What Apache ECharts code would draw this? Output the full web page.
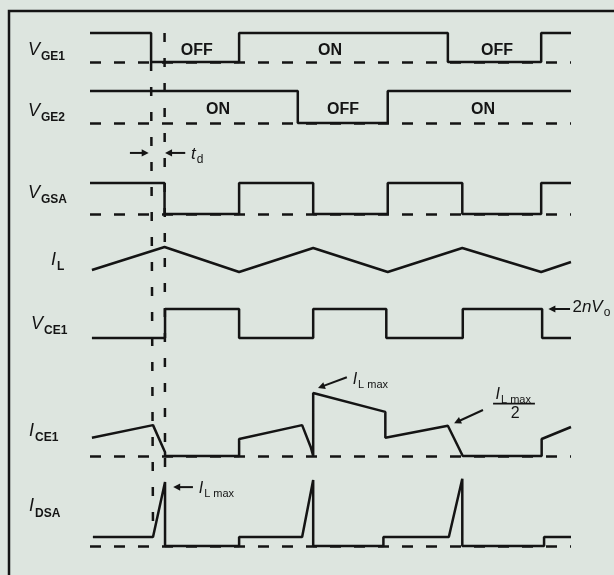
<!DOCTYPE html>
<html>
<head>
<meta charset="utf-8">
<script src="https://cdn.jsdelivr.net/npm/echarts/dist/echarts.min.js"></script>
<style>
html,body{margin:0;padding:0;background:#dde5df;}
#c{width:614px;height:575px;}
</style>
</head>
<body>
<div id="c"></div>
<script>
// ---------- DATA (time in arbitrary units 0..100, levels normalised per trace) ----------
const timeRange = [0, 100];

const vge1Time  = [0, 12.7, 12.7, 31.0, 31.0, 74.4, 74.4, 93.8, 93.8, 100];
const vge1Level = [1, 1, 0, 0, 1, 1, 0, 0, 1, 1];

const vge2Time  = [0, 43.2, 43.2, 61.9, 61.9, 100];
const vge2Level = [1, 1, 0, 0, 1, 1];

const vgsaTime  = [0, 15.5, 15.5, 31.0, 31.0, 46.4, 46.4, 61.9, 61.9, 77.4, 77.4, 93.8, 93.8, 100];
const vgsaLevel = [1, 1, 0, 0, 1, 1, 0, 0, 1, 1, 0, 0, 1, 1];

const ilTime    = [0.4, 15.5, 31.0, 46.4, 61.9, 77.4, 93.8, 100];
const ilLevel   = [0.08, 1, 0, 0.96, 0, 0.96, 0, 0.4];

const vce1Time  = [0.4, 15.6, 15.6, 31.0, 31.0, 46.4, 46.4, 61.6, 61.6, 77.5, 77.5, 94.0, 94.0, 100];
const vce1Level = [0, 0, 1, 1, 0, 0, 1, 1, 0, 0, 1, 1, 0, 0];

// I_CE1 and I_DSA in units of I_L max
const ice1Time  = [0.4, 13.1, 15.6, 15.6, 31.0, 31.0, 44.1, 45.9, 46.4, 46.4, 61.4, 61.4, 74.4, 77.5, 93.9, 93.9, 100];
const ice1Level = [0.29, 0.49, 0.06, 0, 0, 0.27, 0.49, 0.14, 0, 1, 0.70, 0.29, 0.48, 0, 0, 0.27, 0.46];

const idsaTime  = [0.6, 13.1, 15.6, 15.6, 31.0, 31.0, 44.1, 46.4, 46.4, 61.0, 61.0, 74.6, 77.4, 77.4, 94.4, 94.4, 100];
const idsaLevel = [0.14, 0.14, 1.0, 0, 0, 0.14, 0.14, 1.03, 0, 0, 0.14, 0.14, 1.05, 0, 0, 0.14, 0.14];

const traceTimes  = [vge1Time, vge2Time, vgsaTime, ilTime, vce1Time, ice1Time, idsaTime];
const traceLevels = [vge1Level, vge2Level, vgsaLevel, ilLevel, vce1Level, ice1Level, idsaLevel];
const traceDashedBase = [true, true, true, false, false, true, true];

const traceLabelMain = ['V', 'V', 'V', 'I', 'V', 'I', 'I'];
const traceLabelSub  = ['GE1', 'GE2', 'GSA', 'L', 'CE1', 'CE1', 'DSA'];

const stateTexts = ['OFF', 'ON', 'OFF', 'ON', 'OFF', 'ON'];
const stateTrack = [0, 0, 0, 1, 1, 1];
const stateTime  = [22.2, 49.9, 84.6, 26.6, 52.6, 81.7];

// ---------- LAYOUT ----------
const FONT = '"Liberation Sans", Arial, sans-serif';
const INK = '#141414';
const plotLeft = 90, plotRight = 43;
const trackLayout = [
  {top: 33, height: 29},   // V_GE1
  {top: 91, height: 32},   // V_GE2
  {top: 183, height: 31},  // V_GSA
  {top: 247, height: 25},  // I_L
  {top: 309, height: 29},  // V_CE1
  {top: 393, height: 63},  // I_CE1
  {top: 482, height: 64},  // I_DSA
];
const labelLayout = [
  {x: 28, level: 0.34}, {x: 28, level: 0.31}, {x: 28, level: 0.61}, {x: 51, level: 0.40},
  {x: 31, level: 0.41}, {x: 29, level: 0.37}, {x: 29, level: 0.59}
];
const stateLevel = [0.41, 0.41, 0.41, 0.41, 0.41, 0.41];

const chart = echarts.init(document.getElementById('c'), null, {renderer: 'canvas', width: 614, height: 575});

const grids = [], xAxes = [], yAxes = [], series = [];
trackLayout.forEach((tl, i) => {
  grids.push({left: plotLeft, right: plotRight, top: tl.top, height: tl.height, show: false});
  xAxes.push({type: 'value', gridIndex: i, min: timeRange[0], max: timeRange[1], show: false});
  yAxes.push({type: 'value', gridIndex: i, min: 0, max: 1, show: false});
  const s = {
    type: 'line', xAxisIndex: i, yAxisIndex: i, symbol: 'none', clip: false, silent: true,
    data: traceTimes[i].map((t, k) => [t, traceLevels[i][k]]),
    lineStyle: {color: INK, width: 2.5},
    z: 3
  };
  if (traceDashedBase[i]) {
    s.markLine = {
      silent: true, symbol: ['none', 'none'], label: {show: false},
      lineStyle: {color: INK, width: 2.5, type: [11, 13]},
      data: [{yAxis: 0}]
    };
  }
  series.push(s);
});

chart.setOption({
  animation: false,
  backgroundColor: '#dde5df',
  grid: grids, xAxis: xAxes, yAxis: yAxes, series: series
});

// ---------- ANNOTATIONS (positioned through the axes) ----------
const P = (track, t, v) => chart.convertToPixel({gridIndex: track}, [t, v]);
const G = [];

// frame
G.push({type: 'rect', silent: true, shape: {x: 9, y: 11, width: 800, height: 800},
        style: {fill: 'none', stroke: INK, lineWidth: 2.5}});

// vertical dashed guides
const guides = [
  [[0, 12.7, 0], [6, 13.1, 0.14]],
  [[0, 15.5, 1], [6, 15.6, 1]]
];
guides.forEach(g => {
  const a = P(g[0][0], g[0][1], g[0][2]), b = P(g[1][0], g[1][1], g[1][2]);
  G.push({type: 'line', silent: true, z: 2, shape: {x1: a[0], y1: a[1], x2: b[0], y2: b[1]},
          style: {stroke: INK, lineWidth: 2.5, lineDash: [9, 16]}});
});

function textEl(x, y, text, rich, font, align) {
  return {type: 'text', x: x, y: y, silent: true, z: 5,
    style: {text: text, rich: rich || {}, font: font || ('17px ' + FONT), fill: INK,
            align: align || 'left', textAlign: align || 'left',
            verticalAlign: 'middle', textVerticalAlign: 'middle'}};
}
const subRich = (mainSize, subSize, subBold, drop) => ({
  r: {font: mainSize + 'px ' + FONT, fill: INK, verticalAlign: 'bottom', padding: [0, 0, drop, 0]},
  m: {font: 'italic ' + mainSize + 'px ' + FONT, fill: INK, verticalAlign: 'bottom', padding: [0, 1, drop, 0]},
  s: {font: (subBold ? 'bold ' : '') + subSize + 'px ' + FONT, fill: INK, verticalAlign: 'bottom'}
});

// trace labels
traceLabelMain.forEach((m, i) => {
  const p = P(i, 0, labelLayout[i].level);
  G.push(textEl(labelLayout[i].x, p[1], '{m|' + m + '}{s|' + traceLabelSub[i] + '}', subRich(18, 12, true, 4)));
});

// ON / OFF
stateTexts.forEach((s, k) => {
  const p = P(stateTrack[k], stateTime[k], stateLevel[k]);
  G.push(textEl(p[0], p[1], s, null, 'bold 16px ' + FONT, 'center'));
});

// arrows
function arrow(track, from, to) {
  const a = P(track, from[0], from[1]), b = P(track, to[0], to[1]);
  const dx = b[0] - a[0], dy = b[1] - a[1], L = Math.hypot(dx, dy);
  const ux = dx / L, uy = dy / L, hl = 7, hw = 3.6;
  const base = [b[0] - ux * hl, b[1] - uy * hl];
  G.push({type: 'line', silent: true, z: 5, shape: {x1: a[0], y1: a[1], x2: base[0] + ux, y2: base[1] + uy},
          style: {stroke: INK, lineWidth: 2}});
  G.push({type: 'polygon', silent: true, z: 5,
          shape: {points: [b, [base[0] - uy * hw, base[1] + ux * hw], [base[0] + uy * hw, base[1] - ux * hw]]},
          style: {fill: INK}});
}
arrow(2, [8.3, 1.97], [12.2, 1.97]);      // -> t_d
arrow(2, [19.8, 1.97], [15.6, 1.97]);     // <- t_d
arrow(4, [99.8, 1.0], [95.3, 1.0]);       // <- 2nVo
arrow(5, [53.4, 1.25], [47.4, 1.08]);     // I_L max peak
arrow(5, [81.7, 0.73], [75.7, 0.52]);     // I_L max / 2
arrow(6, [21.4, 0.92], [17.3, 0.92]);     // I_DSA peak

// annotation texts
let p;
p = P(2, 21.0, 1.87);
G.push(textEl(p[0], p[1], '{m|t}{s|d}', subRich(17, 12, false, 3)));
p = P(4, 100.3, 1.0);
G.push(textEl(p[0], p[1], '{r|2}{m|nV}{s|o}', subRich(17, 12, false, 3)));
p = P(5, 54.6, 1.19);
G.push(textEl(p[0], p[1], '{m|I}{s|L max}', subRich(16, 11, false, 3)));
p = P(6, 22.6, 0.875);
G.push(textEl(p[0], p[1], '{m|I}{s|L max}', subRich(16, 11, false, 3)));
// fraction I_L max / 2
p = P(5, 88.0, 0.95);
G.push(textEl(p[0], p[1], '{m|I}{s|L max}', subRich(16, 11, false, 3), null, 'center'));
const fa = P(5, 83.8, 0.83), fb = P(5, 92.5, 0.83);
G.push({type: 'line', silent: true, z: 5, shape: {x1: fa[0], y1: fa[1], x2: fb[0], y2: fb[1]},
        style: {stroke: INK, lineWidth: 1.8}});
p = P(5, 88.4, 0.67);
G.push(textEl(p[0], p[1], '2', null, '16px ' + FONT, 'center'));

chart.setOption({graphic: {elements: G}});
</script>
</body>
</html>
